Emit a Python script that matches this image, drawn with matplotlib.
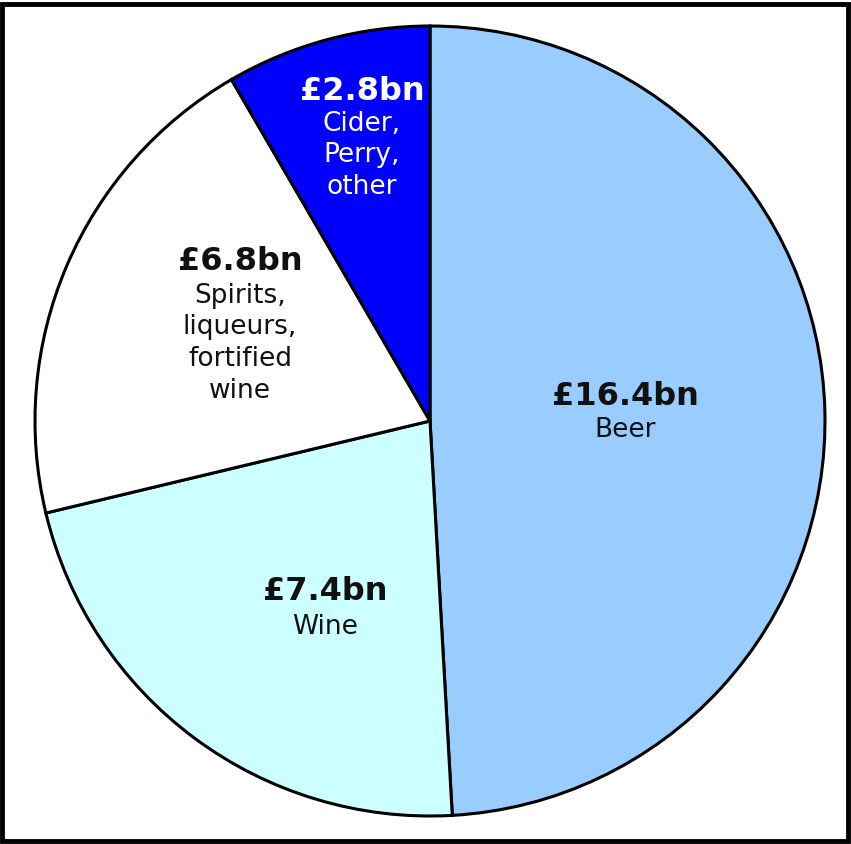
import matplotlib.pyplot as plt
from matplotlib.patches import Rectangle

# UK alcohol spending by drink type (£bn)
categories = ['Beer', 'Wine', 'Spirits,\nliqueurs,\nfortified\nwine', 'Cider,\nPerry,\nother']
values = [16.4, 7.4, 6.8, 2.8]
value_labels = ['£16.4bn', '£7.4bn', '£6.8bn', '£2.8bn']
colors = ['#99CCFF', '#CCFFFF', '#FFFFFF', '#0000FF']
text_colors = ['#111111', '#111111', '#111111', '#FFFFFF']

# where each label block sits (data coords, pie radius = 1)
label_x = [0.494, -0.266, -0.481, -0.172]
value_y = [0.063, -0.431, 0.404, 0.835]
name_top = [0.011, -0.489, 0.350, 0.786]

plt.rcParams['font.family'] = ['DejaVu Sans']

fig = plt.figure(figsize=(8.51, 8.44), dpi=100)
ax = fig.add_axes([35 / 851, 28 / 844, 790 / 851, 790 / 844])

ax.pie(values, colors=colors, startangle=90, counterclock=False,
       wedgeprops=dict(edgecolor='black', linewidth=2.2), radius=1)
ax.set_xlim(-1.0, 1.0)
ax.set_ylim(-1.0, 1.0)
ax.set_aspect('equal')
ax.axis('off')

for i in range(len(values)):
    ax.text(label_x[i], value_y[i], value_labels[i], ha='center', va='center',
            fontsize=23, fontweight='bold', color=text_colors[i])
    ax.text(label_x[i], name_top[i], categories[i], ha='center', va='top',
            fontsize=19, color=text_colors[i], linespacing=1.28)

# black frame around the picture
fig.patches.append(Rectangle((0.002, 0.003), 0.994, 0.992, transform=fig.transFigure,
                             fill=False, edgecolor='black', linewidth=3.5))

fig.savefig('out.png', dpi=100, facecolor='white')
